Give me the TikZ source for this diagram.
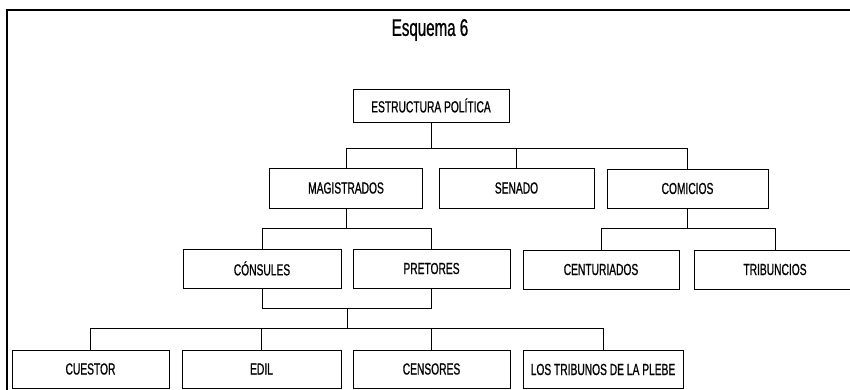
\documentclass[tikz,border=0pt]{standalone}
\usepackage{fontspec}
\setmainfont{Liberation Sans}[FakeStretch=0.64, FakeBold=0.8]
\newfontfamily\titlefont{Liberation Sans}[FakeStretch=0.63, FakeBold=0.8]
\begin{document}
\begin{tikzpicture}[x=1pt,y=-1pt,
  box/.style={draw=black, line width=0.9pt, inner sep=0pt, minimum height=39pt,
    font=\fontsize{16}{18}\selectfont, anchor=center},
  wire/.style={draw=black, line width=0.9pt},
  frame/.style={draw=black, line width=1.4pt}]
\useasboundingbox (0,0) rectangle (850,390);
\clip (0,0) rectangle (850,390);
% frame
\draw[frame] (7,392) -- (7,10) -- (852,10);
% title
\node[font=\titlefont\fontsize{24}{26}\selectfont] (title) at (430,30) {Esquema 6};
% level 0
\node[box, minimum width=156pt, minimum height=33pt] (estr) at (431,105.5) {ESTRUCTURA POLÍTICA};
% level 1
\node[box, minimum width=153pt, minimum height=40pt] (mag) at (346,188) {MAGISTRADOS};
\node[box, minimum width=155pt, minimum height=40pt] (sen) at (516.5,188) {SENADO};
\node[box, minimum width=161pt, minimum height=39pt] (com) at (687.5,188.5) {COMICIOS};
% level 2
\node[box, minimum width=158pt] (cons) at (262,268.5) {CÓNSULES};
\node[box, minimum width=157pt] (pret) at (431.5,268.5) {PRETORES};
\node[box, minimum width=156pt] (cent) at (601,269.5) {CENTURIADOS};
\node[box, minimum width=162pt] (tribc) at (775,269.5) {TRIBUNCIOS};
% level 3
\node[box, minimum width=157pt, minimum height=38pt] (cuest) at (90.5,369) {CUESTOR};
\node[box, minimum width=159pt, minimum height=38pt] (edil) at (261.5,369) {EDIL};
\node[box, minimum width=157pt, minimum height=38pt] (cens) at (431.5,369) {CENSORES};
\node[box, minimum width=160pt, minimum height=38pt] (tplebe) at (603,369.5) {LOS TRIBUNOS DE LA PLEBE};
% bus coordinates
\coordinate (b1) at (0,148);
\coordinate (b2) at (0,228.5);
\coordinate (b3) at (0,308.5);
\coordinate (b4) at (0,328.5);
\coordinate (j) at (347,308.5);
% connectors level 0 -> 1
\draw[wire] (estr.south) -- (estr.south |- b1);
\draw[wire] (mag.north) -- (mag.north |- b1) -- (com.north |- b1) -- (com.north);
\draw[wire] (sen.north) -- (sen.north |- b1);
% magistrados -> consules, pretores
\draw[wire] (mag.south) -- (mag.south |- b2);
\draw[wire] (cons.north) -- (cons.north |- b2) -- (pret.north |- b2) -- (pret.north);
% comicios -> centuriados, tribuncios
\draw[wire] (com.south) -- (com.south |- b2);
\draw[wire] (cent.north) -- (cent.north |- b2) -- (tribc.north |- b2) -- (tribc.north);
% consules/pretores -> lower
\draw[wire] (cons.south) -- (cons.south |- b3) -- (pret.south |- b3) -- (pret.south);
\draw[wire] (j) -- (j |- b4);
\draw[wire] (cuest.north) -- (cuest.north |- b4) -- (tplebe.north |- b4) -- (tplebe.north);
\draw[wire] (edil.north) -- (edil.north |- b4);
\draw[wire] (cens.north) -- (cens.north |- b4);
\end{tikzpicture}
\end{document}
